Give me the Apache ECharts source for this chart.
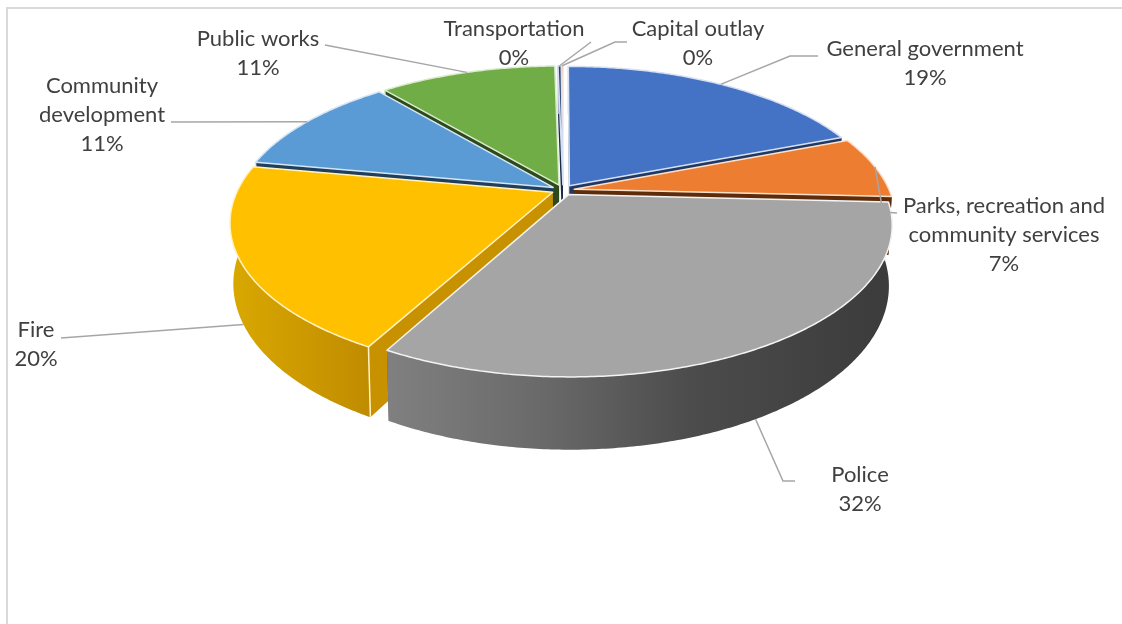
<!DOCTYPE html>
<html><head><meta charset="utf-8">
<style>html,body{margin:0;padding:0;background:#fff}#c{width:1122px;height:624px}</style>
<script src="https://cdn.jsdelivr.net/npm/echarts@6/dist/echarts.min.js"></script>
</head><body><div id="c"></div>
<script>
// ---- data ----
const categories = ['General government','Parks, recreation and\ncommunity services','Police','Fire','Community\ndevelopment','Public works','Transportation','Capital outlay'];
const values = [19.1, 6.7, 32.1, 20.0, 11.0, 10.8, 0.2, 0.1];
// ---- styles ----
const topColors  = ['#4472c4','#ed7d31','#a5a5a5','#ffc000','#5b9bd5','#70ad47','#264478','#9e480e'];
const wallColors = ['#1f3864','#5e2c0a','#555555','#c79100','#1f3f5c','#2c4a1c','#172a4a','#5e2c0a'];
const edgeColors = ['#d6e0f2','#fbe0cc','#f4f4f4','#fff2c4','#d6e6f5','#dcebd0','#d6e0f2','#fbe0cc'];
const outerStops = [null,null,[[0,'#808080'],[.3,'#6a6a6a'],[.6,'#4c4c4c'],[1,'#3b3b3b']],[[0,'#d9a800'],[1,'#c08c00']],null,null,null,null];
// ---- layout of pie ----
const G = {cx:563, cy:190, a:315, b:144.4, k:0.197, depth:58, shrink:0.99, explode:0.036};
// ---- layout of labels: centre x, y of first line, leader points from the slice outward ----
const labelPos = [[925,49],[1004,206],[860,475],[36,330],[102,86],[258,39],[514,29],[698,29]];
const leaderEnd = [[[790,56],[818,56]],[[883,212],[897,213]],[[783,481],[795,481]],[[61,338]],[[171,122]],[[325,45]],[[591,42]],[[615,42],[627,42]]];
const anchorOnWall = [false,false,true,true,false,false,false,false];
const lineH = 29;

const total = values.reduce((s,v)=>s+v,0);
const starts = []; let acc = 0;
values.forEach(v=>{starts.push(acc/total*Math.PI*2); acc+=v;});
const ends = values.map((v,i)=>starts[i]+v/total*Math.PI*2);
const mids = values.map((v,i)=>(starts[i]+ends[i])/2);

function proj(X,Y,lower){
  const w = 1-G.k*Y;
  let x = G.a*X/w, y = G.b*Y/w;
  if(lower){ x*=G.shrink; y = y+G.depth/w; }
  return [G.cx+x, G.cy+y];
}
function pt(i,r,t,lower){
  const e = G.explode, m = mids[i];
  return proj(e*Math.sin(m)+r*Math.sin(t), -e*Math.cos(m)-r*Math.cos(t), lower);
}
function arc(i,t0,t1,lower){
  const n = Math.max(2,Math.ceil((t1-t0)/0.01)), out=[];
  for(let j=0;j<=n;j++) out.push(pt(i,1,t0+(t1-t0)*j/n,lower));
  return out;
}
function sliceShapes(i){
  const t0=starts[i], t1=ends[i];
  const vT=pt(i,0,0,false), vB=pt(i,0,0,true);
  const top=arc(i,t0,t1,false), bot=arc(i,t0,t1,true);
  const wall=(angle)=>({type:'polygon',shape:{points:[vT,pt(i,1,angle,false),pt(i,1,angle,true),vB]},
    style:{fill:wallColors[i],stroke:null}});
  let fill = wallColors[i];
  if(outerStops[i]){
    fill = new echarts.graphic.LinearGradient(0,0,1,0,outerStops[i].map(s=>({offset:s[0],color:s[1]})));
  }
  const radial=[t0,t1].sort((p,q)=>(-Math.cos(p))-(-Math.cos(q))).map(wall);
  return radial.concat([
    {type:'polygon',shape:{points:top.concat(bot.slice().reverse())},style:{fill:fill,stroke:null}},
    {type:'polyline',shape:{points:[pt(i,1,t0,false),pt(i,1,t0,true)]},style:{stroke:edgeColors[i],lineWidth:1.5,fill:null}},
    {type:'polygon',shape:{points:[vT].concat(top)},style:{fill:topColors[i],stroke:edgeColors[i],lineWidth:1.5,lineJoin:'round'}}
  ]);
}
const order = values.map((v,i)=>i).sort((p,q)=>(-Math.cos(mids[p]))-(-Math.cos(mids[q])));
const option = {
  animation:false,
  backgroundColor:'#ffffff',
  graphic:[{type:'rect',shape:{x:7,y:8,width:1200,height:700},style:{fill:'#fff',stroke:'#d9d9d9',lineWidth:2},silent:true,z:-1}],
  series:[
    {type:'custom',coordinateSystem:'none',silent:true,z:2,
     data:order.map(i=>({name:categories[i],value:[i,values[i]]})),
     renderItem:function(p,api){return {type:'group',children:sliceShapes(api.value(0))};}},
    {type:'custom',coordinateSystem:'none',silent:true,z:3,
     data:categories.map((c,i)=>({name:c,value:[i,values[i]]})),
     renderItem:function(p,api){
       const i=api.value(0);
       const start=pt(i,1,mids[i],anchorOnWall[i]);
       const txt=categories[i]+'\n'+Math.round(values[i]/total*100)+'%';
       return {type:'group',children:[
         {type:'polyline',shape:{points:[start].concat(leaderEnd[i])},style:{stroke:'#a6a6a6',lineWidth:1.5,fill:null}},
         {type:'text',style:{x:labelPos[i][0],y:labelPos[i][1]-lineH/2,text:txt,align:'center',verticalAlign:'top',
            font:'22px Lato, Carlito, Calibri, sans-serif',lineHeight:lineH,fill:'#404040'}}
       ]};
     }}
  ]
};
const chart = echarts.init(document.getElementById('c'),null,{renderer:'canvas'});
chart.setOption(option);
</script></body></html>
